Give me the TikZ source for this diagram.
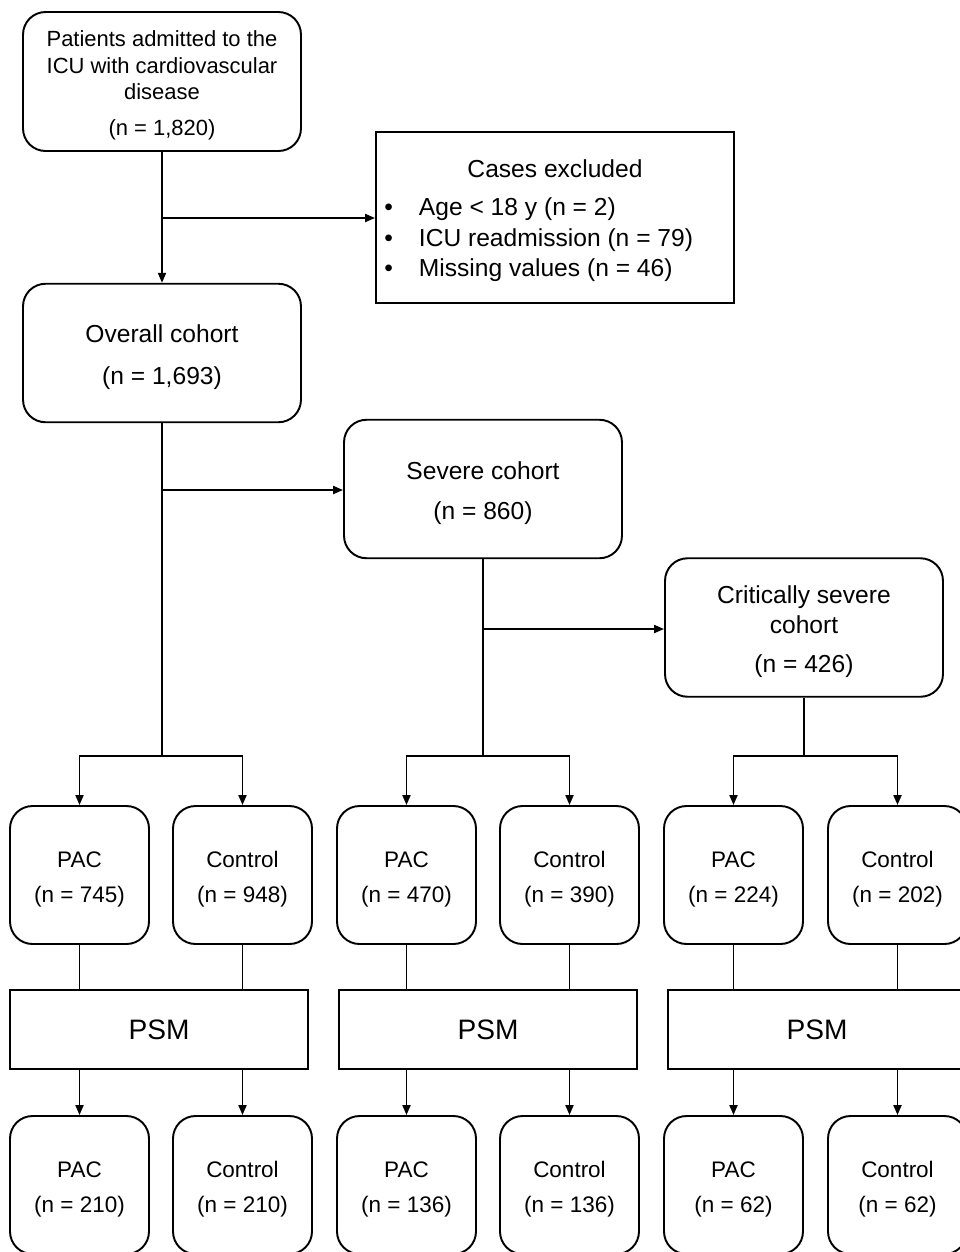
\documentclass[tikz,border=0pt]{standalone}
\usepackage{fontspec}
\setmainfont{Liberation Sans}
\usetikzlibrary{arrows.meta,positioning}
\newcommand{\topgap}{\rule{0pt}{1.06em}}

\begin{document}
\begin{tikzpicture}[x=0.02cm,y=-0.02cm,
  box/.style={draw,line width=1.1pt,rounded corners=0.45cm,align=center,inner sep=0pt},
  bigbox/.style={box,minimum width=5.56cm,minimum height=2.77cm,font=\fontsize{14}{17}\selectfont},
  smallbox/.style={box,minimum width=2.78cm,minimum height=2.76cm,font=\fontsize{12.8}{15.4}\selectfont},
  psmbox/.style={draw,line width=1.1pt,inner sep=0pt,minimum width=5.96cm,minimum height=1.58cm,font=\fontsize{16}{19}\selectfont},
  line/.style={line width=1.1pt},
  arr/.style={line,-{Triangle[length=2mm,width=1.6mm]}}]
  \useasboundingbox (0,0) rectangle (960,1252);
  \clip (0,0) rectangle (960,1252);

  % cohorts
  \node (adm) at (162,81.5)[bigbox,minimum height=2.78cm,font=\fontsize{12.5}{15.3}\selectfont]
    {\topgap Patients admitted to the\\ICU with cardiovascular\\disease\\[5pt](n = 1,820)};
  \node (excl) at (555,217.5)[draw,line width=1.1pt,minimum width=7.16cm,minimum height=3.42cm]{};
  \node (excltitle) at (555,169)[font=\fontsize{14}{17}\selectfont]{Cases excluded};
  \node (excllist) at (384,240)[anchor=west,inner sep=0pt,font=\fontsize{14}{17.4}\selectfont]
    {\begin{tabular}{@{}l@{\hspace{0.52cm}}l@{}}
      \textbullet & Age < 18 y (n = 2)\\
      \textbullet & ICU readmission (n = 79)\\
      \textbullet & Missing values (n = 46)
    \end{tabular}};
  \node (all) at (162,353)[bigbox]{\topgap Overall cohort\\[7pt](n = 1,693)};
  \node (sev) at (483,489)[bigbox]{\topgap Severe cohort\\[6pt](n = 860)};
  \node (crit) at (804,627.5)[bigbox]{\topgap Critically severe\\cohort\\[5pt](n = 426)};

  \coordinate (j1) at (162,218);
  \coordinate (j2) at (162,490);
  \coordinate (j3) at (483,629);
  \draw [arr] (adm.south) -- (all.north);
  \draw [arr] (j1) -- (excl.west |- j1);
  \draw [arr] (j2) -- (sev.west |- j2);
  \draw [arr] (j3) -- (crit.west |- j3);

  % groups
  \node (pac1) at (79.5,875)[smallbox]{\topgap PAC\\[4.5pt](n = 745)};
  \node (con1) at (242.5,875)[smallbox]{\topgap Control\\[4.5pt](n = 948)};
  \node (pac2) at (406.5,875)[smallbox]{\topgap PAC\\[4.5pt](n = 470)};
  \node (con2) at (569.5,875)[smallbox]{\topgap Control\\[4.5pt](n = 390)};
  \node (pac3) at (733.5,875)[smallbox]{\topgap PAC\\[4.5pt](n = 224)};
  \node (con3) at (897.5,875)[smallbox]{\topgap Control\\[4.5pt](n = 202)};

  \coordinate (b1) at (162,756);
  \coordinate (b2) at (483,756);
  \coordinate (b3) at (804,756);
  \draw [line] (all.south) -- (b1);
  \draw [line] (sev.south) -- (b2);
  \draw [line] (crit.south) -- (b3);
  \draw [arr] (b1) -| (pac1.north);
  \draw [arr] (b1) -| (con1.north);
  \draw [arr] (b2) -| (pac2.north);
  \draw [arr] (b2) -| (con2.north);
  \draw [arr] (b3) -| (pac3.north);
  \draw [arr] (b3) -| (con3.north);

  % matching
  \node (psm1) at (159,1029.5)[psmbox]{PSM};
  \node (psm2) at (488,1029.5)[psmbox]{PSM};
  \node (psm3) at (817,1029.5)[psmbox]{PSM};

  \draw [line] (pac1.south) -- (pac1.south |- psm1.north);
  \draw [line] (con1.south) -- (con1.south |- psm1.north);
  \draw [line] (pac2.south) -- (pac2.south |- psm2.north);
  \draw [line] (con2.south) -- (con2.south |- psm2.north);
  \draw [line] (pac3.south) -- (pac3.south |- psm3.north);
  \draw [line] (con3.south) -- (con3.south |- psm3.north);

  \node (mpac1) at (79.5,1185)[smallbox]{\topgap PAC\\[4.5pt](n = 210)};
  \node (mcon1) at (242.5,1185)[smallbox]{\topgap Control\\[4.5pt](n = 210)};
  \node (mpac2) at (406.5,1185)[smallbox]{\topgap PAC\\[4.5pt](n = 136)};
  \node (mcon2) at (569.5,1185)[smallbox]{\topgap Control\\[4.5pt](n = 136)};
  \node (mpac3) at (733.5,1185)[smallbox]{\topgap PAC\\[4.5pt](n = 62)};
  \node (mcon3) at (897.5,1185)[smallbox]{\topgap Control\\[4.5pt](n = 62)};

  \draw [arr] (mpac1.north |- psm1.south) -- (mpac1.north);
  \draw [arr] (mcon1.north |- psm1.south) -- (mcon1.north);
  \draw [arr] (mpac2.north |- psm2.south) -- (mpac2.north);
  \draw [arr] (mcon2.north |- psm2.south) -- (mcon2.north);
  \draw [arr] (mpac3.north |- psm3.south) -- (mpac3.north);
  \draw [arr] (mcon3.north |- psm3.south) -- (mcon3.north);
\end{tikzpicture}
\end{document}
